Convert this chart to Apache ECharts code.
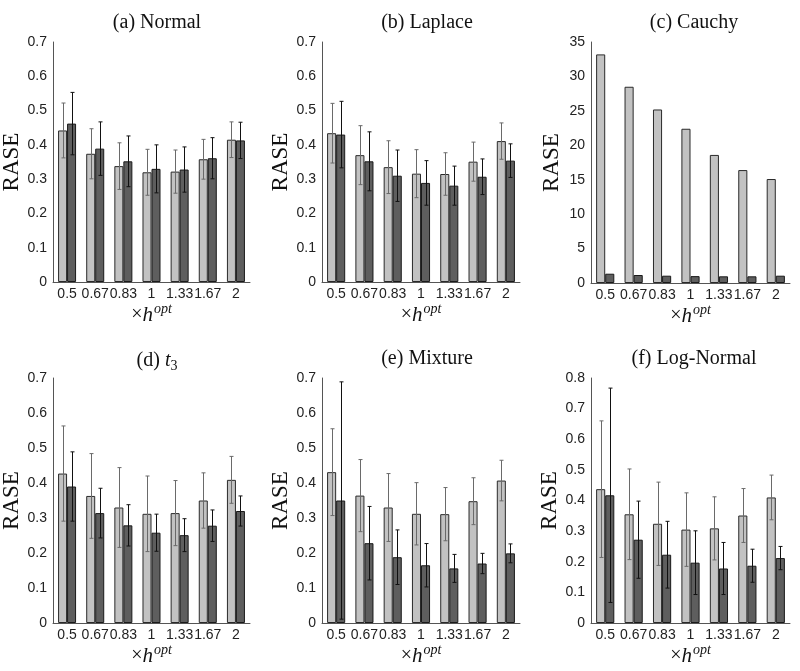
<!DOCTYPE html>
<html>
<head>
<meta charset="utf-8">
<script src="https://cdn.jsdelivr.net/npm/echarts@6/dist/echarts.min.js"></script>
<style>html,body{margin:0;padding:0;background:#fff}#c{width:800px;height:671px}</style>
</head>
<body>
<div id="c"></div>
<script>
const categories = ['0.5','0.67','0.83','1','1.33','1.67','2'];
const panelTitles = ['(a) Normal','(b) Laplace','(c) Cauchy','(d) {i|t}{sub|3}','(e) Mixture','(f) Log-Normal'];
const yMax = [0.7, 0.7, 35, 0.7, 0.7, 0.8];
const yInterval = [0.1, 0.1, 5, 0.1, 0.1, 0.1];

const normalLight = [0.442,0.374,0.338,0.320,0.322,0.358,0.415];
const normalDark = [0.462,0.389,0.352,0.330,0.328,0.361,0.413];
const normalLightErr = [0.080,0.073,0.068,0.067,0.063,0.058,0.052];
const normalDarkErr = [0.091,0.078,0.074,0.070,0.066,0.060,0.053];

const laplaceLight = [0.434,0.370,0.335,0.316,0.315,0.351,0.411];
const laplaceDark = [0.430,0.352,0.310,0.289,0.281,0.307,0.354];
const laplaceLightErr = [0.087,0.086,0.077,0.070,0.062,0.057,0.053];
const laplaceDarkErr = [0.097,0.086,0.075,0.065,0.057,0.052,0.049];

const cauchyLight = [33.2,28.5,25.2,22.4,18.6,16.4,15.1];
const cauchyDark = [1.35,1.16,1.06,1.0,0.97,0.97,1.06];

const t3Light = [0.427,0.363,0.330,0.312,0.314,0.350,0.409];
const t3Dark = [0.390,0.314,0.279,0.258,0.251,0.278,0.320];
const t3LightErr = [0.136,0.121,0.114,0.108,0.093,0.079,0.067];
const t3DarkErr = [0.099,0.071,0.059,0.053,0.047,0.045,0.043];

const mixLight = [0.431,0.364,0.330,0.312,0.311,0.348,0.407];
const mixDark = [0.350,0.228,0.188,0.165,0.156,0.170,0.199];
const mixLightErr = [0.124,0.103,0.097,0.089,0.076,0.067,0.058];
const mixDarkErr = [0.339,0.105,0.078,0.062,0.040,0.029,0.027];

const lnLight = [0.437,0.355,0.324,0.305,0.309,0.351,0.410];
const lnDark = [0.417,0.272,0.223,0.197,0.178,0.187,0.212];
const lnLightErr = [0.223,0.148,0.136,0.120,0.103,0.088,0.073];
const lnDarkErr = [0.350,0.126,0.109,0.104,0.085,0.054,0.038];

const panels = [
  {light: normalLight, dark: normalDark, le: normalLightErr, de: normalDarkErr},
  {light: laplaceLight, dark: laplaceDark, le: laplaceLightErr, de: laplaceDarkErr},
  {light: cauchyLight, dark: cauchyDark, le: null, de: null},
  {light: t3Light, dark: t3Dark, le: t3LightErr, de: t3DarkErr},
  {light: mixLight, dark: mixDark, le: mixLightErr, de: mixDarkErr},
  {light: lnLight, dark: lnDark, le: lnLightErr, de: lnDarkErr}
];

const grids = [
  {left: 53, top: 42, width: 197, height: 240},
  {left: 322, top: 42, width: 198, height: 240},
  {left: 591, top: 42, width: 199, height: 241},
  {left: 53, top: 378, width: 197, height: 245},
  {left: 322, top: 378, width: 198, height: 245},
  {left: 591, top: 378, width: 199, height: 245}
].map(g => Object.assign({outerBoundsMode: 'none', containLabel: false}, g));
const titlePos = [[152, 8],[422, 8],[689, 8],[152, 344],[422, 344],[689, 344]];

const BW = 0.32;
const LIGHT = '#c2c2c2', DARK = '#5e5e5e';
const serif = 'Liberation Serif';
const sans = 'Liberation Sans';

function errRender(sign, color) {
  return function (params, api) {
    const i = api.value(0), m = api.value(1), e = api.value(2);
    const band = api.size([1, 0])[0];
    const off = sign * band * BW / 2;
    const t = api.coord([i, m + e]);
    const b = api.coord([i, m - e]);
    const x = Math.round(t[0] + off) + 0.5;
    const cw = 2;
    const st = {stroke: color, lineWidth: 1};
    return {type: 'group', children: [
      {type: 'line', shape: {x1: x, y1: t[1], x2: x, y2: b[1]}, style: st},
      {type: 'line', shape: {x1: x - cw, y1: t[1], x2: x + cw, y2: t[1]}, style: st},
      {type: 'line', shape: {x1: x - cw, y1: b[1], x2: x + cw, y2: b[1]}, style: st}
    ]};
  };
}

const option = {
  backgroundColor: '#fff',
  animation: false,
  title: panelTitles.map((t, k) => ({
    text: t, left: titlePos[k][0], top: titlePos[k][1], textAlign: 'center',
    textStyle: {fontFamily: serif, fontSize: 20, fontWeight: 'normal', color: '#111',
      rich: {i: {fontFamily: serif, fontStyle: 'italic', fontSize: 20, color: '#111'},
             sub: {fontFamily: serif, fontSize: 14, color: '#111', verticalAlign: 'bottom', padding: [10, 0, 0, 0]}}}
  })),
  grid: grids,
  xAxis: grids.map((g, k) => ({
    type: 'category', gridIndex: k, data: categories,
    axisLine: {lineStyle: {color: '#555', width: 1}},
    axisTick: {show: false},
    axisLabel: {interval: 0, fontFamily: sans, fontSize: 14, color: '#222', margin: 5, hideOverlap: false},
    name: '{t|×}{h|h}{s|opt}', nameLocation: 'middle', nameGap: 20,
    nameTextStyle: {fontFamily: serif, fontSize: 20, color: '#111',
      rich: {t: {fontFamily: serif, fontSize: 20, color: '#111', lineHeight: 26},
             h: {fontFamily: serif, fontStyle: 'italic', fontSize: 21, color: '#111', lineHeight: 26},
             s: {fontFamily: serif, fontStyle: 'italic', fontSize: 14, color: '#111', verticalAlign: 'top', lineHeight: 26, padding: [0, 0, 0, 1]}}}
  })),
  yAxis: grids.map((g, k) => ({
    type: 'value', gridIndex: k, min: 0, max: yMax[k], interval: yInterval[k],
    axisLine: {show: true, lineStyle: {color: '#555', width: 1}},
    axisTick: {show: false},
    splitLine: {show: false},
    axisLabel: {fontFamily: sans, fontSize: 14, color: '#222', margin: 6},
    name: 'RASE', nameLocation: 'middle', nameGap: 28,
    nameTextStyle: {fontFamily: serif, fontSize: 23, color: '#111'}
  })),
  series: []
};

panels.forEach((p, k) => {
  option.series.push({
    type: 'bar', xAxisIndex: k, yAxisIndex: k, data: p.light, barWidth: (BW * 100) + '%', barGap: '0%',
    itemStyle: {color: LIGHT, borderColor: '#2a2a2a', borderWidth: 1}
  });
  option.series.push({
    type: 'bar', xAxisIndex: k, yAxisIndex: k, data: p.dark, barWidth: (BW * 100) + '%', barGap: '0%',
    itemStyle: {color: DARK, borderColor: '#1a1a1a', borderWidth: 1}
  });
  if (p.le) {
    option.series.push({
      type: 'custom', xAxisIndex: k, yAxisIndex: k, z: 5,
      data: p.light.map((v, i) => [i, v, p.le[i]]),
      encode: {x: 0, y: 1},
      renderItem: errRender(-1, '#6a6a6a')
    });
    option.series.push({
      type: 'custom', xAxisIndex: k, yAxisIndex: k, z: 5,
      data: p.dark.map((v, i) => [i, v, p.de[i]]),
      encode: {x: 0, y: 1},
      renderItem: errRender(1, '#111')
    });
  }
});

const chart = echarts.init(document.getElementById('c'), null, {renderer: 'canvas'});
chart.setOption(option);
</script>
</body>
</html>
